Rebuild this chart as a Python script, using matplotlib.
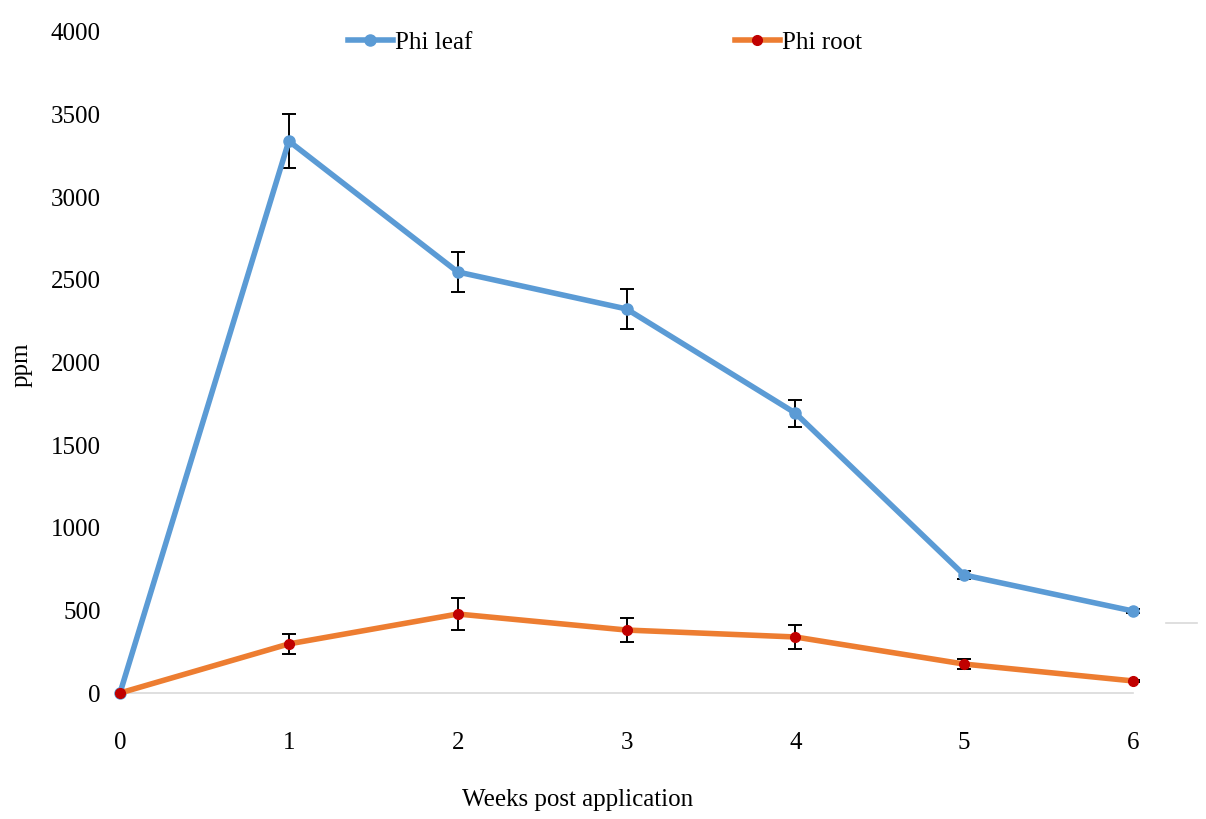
import matplotlib
matplotlib.use('Agg')
import matplotlib.pyplot as plt
from matplotlib.lines import Line2D

plt.rcParams['font.family'] = ['Liberation Serif', 'DejaVu Serif']

weeks = [0, 1, 2, 3, 4, 5, 6]
leaf = [0, 3340, 2548, 2324, 1694, 714, 496]
leaf_err = [0, 165, 120, 120, 82, 22, 12]
root = [0, 297, 478, 381, 339, 175, 73]
root_err = [0, 63, 97, 75, 70, 30, 6]

fig = plt.figure(figsize=(12.06, 8.19), dpi=100)
ax = fig.add_axes([120 / 1206, 1 - 693 / 819, 1013 / 1206, 661 / 819])

blue = '#5B9BD5'
orange = '#ED7D31'
red = '#C00000'

# no error bar at week 0
ax.errorbar(weeks[1:], leaf[1:], yerr=leaf_err[1:], fmt='none', ecolor='black',
            elinewidth=1.4, capsize=5, capthick=1.4, zorder=2, clip_on=False)
ax.errorbar(weeks[1:], root[1:], yerr=root_err[1:], fmt='none', ecolor='black',
            elinewidth=1.4, capsize=5, capthick=1.4, zorder=2, clip_on=False)
ax.plot(weeks, leaf, color=blue, lw=4, marker='o', ms=8, mfc=blue, mec=blue,
        label='Phi leaf', zorder=3, clip_on=False)
ax.plot(weeks, root, color=orange, lw=4, marker='o', ms=7, mfc=red, mec=red,
        label='Phi root', zorder=3, clip_on=False)

ax.set_xlim(0, 6)
ax.set_ylim(0, 4000)
ax.set_yticks(range(0, 4001, 500))
ax.set_xticks(weeks)
for s in ['top', 'right', 'left']:
    ax.spines[s].set_visible(False)
ax.spines['bottom'].set_color('#D9D9D9')
ax.spines['bottom'].set_linewidth(1.2)
ax.tick_params(axis='both', length=0, labelsize=18)
ax.tick_params(axis='y', pad=14)
ax.tick_params(axis='x', pad=28)

fig.text(578 / 1206, 1 - 800 / 819, 'Weeks post application', fontsize=18,
         ha='center', va='center')
fig.text(22 / 1206, 1 - 365 / 819, 'ppm', fontsize=18, rotation=90,
         ha='center', va='center')

fig.legend(loc='upper center', bbox_to_anchor=(605 / 1206, 1 - 9 / 819),
           ncol=2, frameon=False, fontsize=18, handlelength=1.8,
           handletextpad=0.1, columnspacing=10.5)

# stray grey mark at right edge
fig.add_artist(Line2D([1166 / 1206, 1197 / 1206], [1 - 623 / 819, 1 - 623 / 819],
                      color='#D9D9D9', lw=1.2))

fig.savefig('out.png', dpi=100)
